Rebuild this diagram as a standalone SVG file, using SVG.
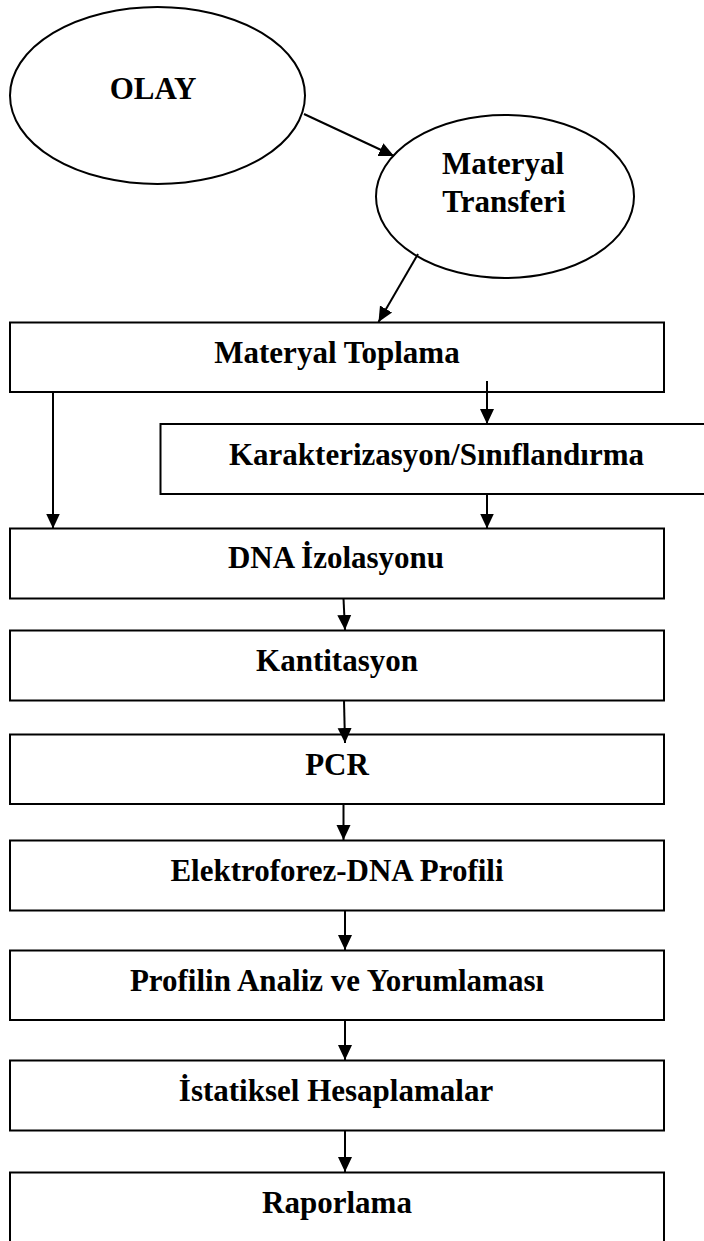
<svg xmlns="http://www.w3.org/2000/svg" width="704" height="1241" viewBox="0 0 704 1241">
<style>
.shape{fill:#fff;stroke:#000;stroke-width:2}
.lbl{font-family:"Liberation Serif","Times New Roman",serif;font-weight:bold;font-size:31px;fill:#000;text-anchor:middle}
.conn{stroke:#000;stroke-width:2;fill:none;marker-end:url(#ah)}
</style>
<defs>
<marker id="ah" markerUnits="userSpaceOnUse" markerWidth="16" markerHeight="16" viewBox="0 0 16 16" refX="15" refY="8" orient="auto">
<path d="M0,1 L15,8 L0,15 Z" fill="#000"/>
</marker>
</defs>
<rect width="704" height="1241" fill="#fff"/>
<g id="olay"><ellipse class="shape" cx="157.5" cy="95.5" rx="147.5" ry="88.5"/><text class="lbl" x="153" y="99">OLAY</text></g>
<g id="materyal-transferi"><ellipse class="shape" cx="505" cy="196.5" rx="129" ry="81.5"/><text class="lbl" x="503" y="174">Materyal</text><text class="lbl" x="504" y="211.5">Transferi</text></g>
<g id="materyal-toplama"><rect class="shape" x="10" y="322.5" width="654" height="69.5"/><text class="lbl" x="337" y="363">Materyal Toplama</text></g>
<g id="karakterizasyon"><rect class="shape" x="160.5" y="424" width="560" height="70"/><text class="lbl" x="436.5" y="465">Karakterizasyon/Sınıflandırma</text></g>
<g id="dna-izolasyonu"><rect class="shape" x="10" y="528.5" width="654" height="70"/><text class="lbl" x="336" y="568">DNA İzolasyonu</text></g>
<g id="kantitasyon"><rect class="shape" x="10" y="630.5" width="654" height="70"/><text class="lbl" x="337" y="670.5">Kantitasyon</text></g>
<g id="pcr"><rect class="shape" x="10" y="734.5" width="654" height="69.5"/><text class="lbl" x="337" y="775">PCR</text></g>
<g id="elektroforez"><rect class="shape" x="10" y="840.5" width="654" height="70"/><text class="lbl" x="337" y="880.5">Elektroforez-DNA Profili</text></g>
<g id="profil-analiz"><rect class="shape" x="10" y="950.5" width="654" height="69.5"/><text class="lbl" x="337" y="990.5">Profilin Analiz ve Yorumlaması</text></g>
<g id="istatiksel"><rect class="shape" x="10" y="1060.5" width="654" height="70"/><text class="lbl" x="336" y="1100.5">İstatiksel Hesaplamalar</text></g>
<g id="raporlama"><rect class="shape" x="10" y="1172.5" width="654" height="80"/><text class="lbl" x="337" y="1212.5">Raporlama</text></g>
<g id="connectors">
<line class="conn" x1="304" y1="114" x2="394" y2="156"/>
<line class="conn" x1="418" y1="254" x2="378.5" y2="322"/>
<line class="conn" x1="487" y1="381" x2="487" y2="424"/>
<line class="conn" x1="53" y1="392" x2="53" y2="528.5"/>
<line class="conn" x1="487" y1="494" x2="487" y2="528.5"/>
<line class="conn" x1="343.5" y1="598.5" x2="345" y2="630"/>
<line class="conn" x1="344" y1="700.5" x2="345" y2="743"/>
<line class="conn" x1="343.5" y1="804" x2="343.5" y2="840"/>
<line class="conn" x1="345" y1="910.5" x2="345" y2="950"/>
<line class="conn" x1="345" y1="1020" x2="345" y2="1060"/>
<line class="conn" x1="345" y1="1130.5" x2="345" y2="1172"/>
</g>
</svg>
